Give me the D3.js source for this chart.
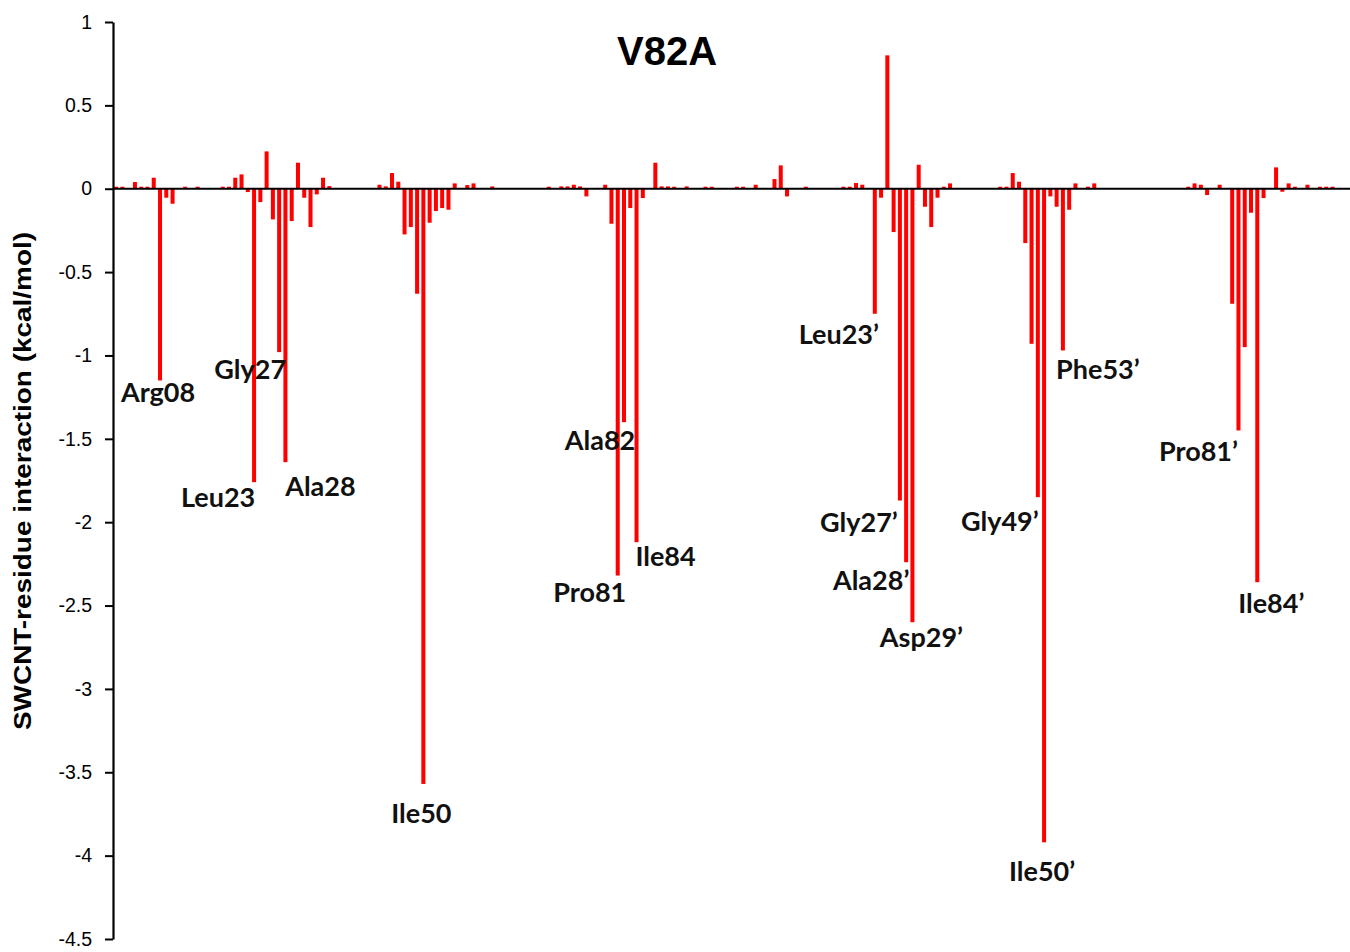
<!DOCTYPE html>
<html>
<head>
<meta charset="utf-8">
<script src="https://cdn.jsdelivr.net/npm/d3@7/dist/d3.min.js"></script>
<style>
  html, body { margin: 0; padding: 0; background: #fff; }
  svg { display: block; }
</style>
</head>
<body>
<div id="chart"></div>
<script>
// Per-residue SWCNT interaction energies (kcal/mol), HIV-1 protease V82A dimer.
// Chain A residues 1–99, chain B residues 1’–99’.
const chainA = [
  0.012, 0.012, 0, 0.04, 0.012, 0.012, 0.066, -1.15, -0.054, -0.09,
  0, 0.012, 0, 0.012, 0, 0, 0, 0.012, 0.012, 0.066,
  0.086, -0.02, -1.76, -0.08, 0.224, -0.184, -0.98, -1.64, -0.194, 0.156,
  -0.054, -0.23, -0.034, 0.066, 0.016, 0, 0, 0, 0, 0,
  0, 0, 0.024, 0.014, 0.094, 0.042, -0.274, -0.23, -0.63, -3.57,
  -0.204, -0.134, -0.116, -0.126, 0.032, 0, 0.022, 0.032, 0, 0,
  0.014, 0, 0, 0, 0, 0, 0, 0, 0, 0.012,
  0, 0.014, 0.014, 0.024, 0.014, -0.046, 0, 0, 0.024, -0.21,
  -2.32, -1.40, -0.116, -2.12, -0.056, 0, 0.156, 0.014, 0.014, 0.012,
  0, 0.014, 0, 0, 0.012, 0.012, 0, 0, 0
];
const chainB = [
  0.012, 0.012, 0, 0.024, 0, 0, 0.058, 0.14, -0.046, 0,
  0, 0.012, 0, 0, 0, 0, 0, 0.012, 0.012, 0.034,
  0.024, 0, -0.75, -0.054, 0.80, -0.26, -1.87, -2.24, -2.60, 0.144,
  -0.108, -0.23, -0.054, 0.012, 0.032, 0, 0, 0, 0, 0,
  0, 0, 0.012, 0.012, 0.094, 0.042, -0.326, -0.93, -1.85, -3.92,
  -0.046, -0.108, -0.97, -0.126, 0.032, 0, 0.012, 0.032, 0, 0,
  0, 0, 0, 0, 0, 0, 0, 0, 0, 0,
  0, 0, 0.012, 0.032, 0.024, -0.038, 0, 0.024, 0, -0.69,
  -1.45, -0.95, -0.144, -2.36, -0.056, 0, 0.128, -0.018, 0.032, 0.012,
  0, 0.024, 0, 0.012, 0.012, 0.012, 0, 0, 0
];

const yTicks = [1, 0.5, 0, -0.5, -1, -1.5, -2, -2.5, -3, -3.5, -4, -4.5];

// Residues called out on the chart (position in the dimer sequence, 1–198)
const labelResidues = [8, 23, 27, 28, 50, 81, 82, 84, 122, 126, 127, 128, 148, 149, 152, 180, 183];
const labelNames = ["Arg08", "Leu23", "Gly27", "Ala28", "Ile50", "Pro81", "Ala82", "Ile84",
  "Leu23’", "Gly27’", "Ala28’", "Asp29’", "Gly49’", "Ile50’", "Phe53’", "Pro81’", "Ile84’"];

const title = "V82A";
const yTitle = "SWCNT-residue interaction (kcal/mol)";

// ---- layout ----
const W = 1350, H = 952;
const plotLeft = 113, plotTop = 22, plotBottom = 939;
const step = 6.27;
const nRes = chainA.length + chainB.length;

// label placement relative to the tip of its bar [dx, dy]
const labelOffsets = [
  [-2, 22], [-36, 25], [-29, 27], [35, 34], [-2, 39], [-28, 26], [-24, 28], [29, 24],
  [-36, 30], [-41, 31], [-35, 28], [9, 25], [-38, 34], [-2, 39], [35, 29], [-40, 31], [14, 31]
];

const values = chainA.concat(chainB);
const data = values.map((v, i) => ({ idx: i + 1, v }));

const svg = d3.select("#chart").append("svg")
  .attr("width", W).attr("height", H);

const x = d3.scaleBand()
  .domain(d3.range(1, nRes + 1))
  .range([plotLeft, plotLeft + step * nRes])
  .paddingInner(0.36)
  .paddingOuter(0.18);

const y = d3.scaleLinear().domain([-4.5, 1]).range([plotBottom, plotTop]);

// bars
svg.append("g")
  .selectAll("rect")
  .data(data.filter(d => d.v !== 0))
  .join("rect")
  .attr("x", d => x(d.idx))
  .attr("width", x.bandwidth())
  .attr("y", d => y(Math.max(0, d.v)))
  .attr("height", d => Math.abs(y(d.v) - y(0)))
  .attr("fill", "#ff0000");

// zero baseline
svg.append("line")
  .attr("x1", plotLeft).attr("x2", W)
  .attr("y1", y(0)).attr("y2", y(0))
  .attr("stroke", "#000").attr("stroke-width", 2.2);

// y axis
const yAxis = d3.axisLeft(y)
  .tickValues(yTicks)
  .tickSize(8)
  .tickSizeOuter(0)
  .tickPadding(13)
  .tickFormat(d => String(d));

const gy = svg.append("g")
  .attr("transform", `translate(${plotLeft},0)`)
  .call(yAxis);
gy.select(".domain").attr("stroke", "#000").attr("stroke-width", 2.2);
gy.selectAll(".tick line").attr("stroke", "#000").attr("stroke-width", 2);
gy.selectAll(".tick text")
  .attr("fill", "#000")
  .style("font-family", "'Liberation Sans', Arial, sans-serif")
  .style("font-size", "19.5px");

// y-axis title
svg.append("text")
  .attr("transform", `translate(31,481) rotate(-90)`)
  .attr("text-anchor", "middle")
  .attr("textLength", 498)
  .attr("lengthAdjust", "spacingAndGlyphs")
  .style("font-family", "'Liberation Sans', Arial, sans-serif")
  .style("font-weight", "bold")
  .style("font-size", "24px")
  .text(yTitle);

// chart title
svg.append("text")
  .attr("x", 667).attr("y", 65)
  .attr("text-anchor", "middle")
  .style("font-family", "'Liberation Sans', Arial, sans-serif")
  .style("font-weight", "bold")
  .style("font-size", "40px")
  .text(title);

// residue labels
svg.append("g")
  .selectAll("text")
  .data(labelResidues.map((r, i) => ({ r, name: labelNames[i], off: labelOffsets[i] })))
  .join("text")
  .attr("x", d => x(d.r) + x.bandwidth() / 2 + d.off[0])
  .attr("y", d => y(values[d.r - 1]) + d.off[1])
  .attr("text-anchor", "middle")
  .style("font-family", "Lato, 'Open Sans', sans-serif")
  .style("font-weight", "bold")
  .style("font-size", "27px")
  .attr("fill", "#111")
  .text(d => d.name);
</script>
</body>
</html>
